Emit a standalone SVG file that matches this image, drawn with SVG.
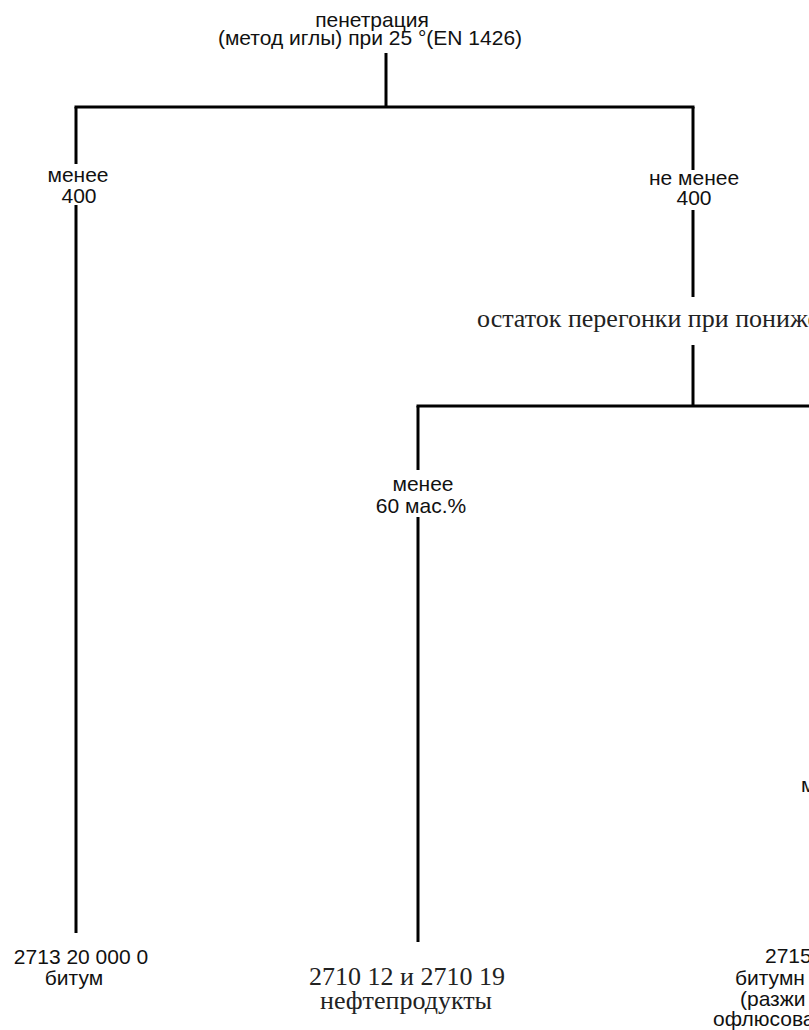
<svg xmlns="http://www.w3.org/2000/svg" width="809" height="1030" viewBox="0 0 809 1030">
<style>
.s{font-family:"Liberation Sans",Arial,sans-serif;font-size:21px;fill:#111;text-anchor:middle}
.r{font-family:"Liberation Serif","Times New Roman",serif;font-size:26px;fill:#222;text-anchor:middle}
.st{text-anchor:start}
.c{stroke:#000;stroke-width:3;fill:none}
</style>
<rect width="809" height="1030" fill="#fff"/>
<g id="connectors" class="c">
<line x1="386" y1="53" x2="386" y2="107"/>
<line x1="74.5" y1="107" x2="694.5" y2="107"/>
<line x1="76" y1="107" x2="76" y2="164"/>
<line x1="76" y1="205" x2="76" y2="933"/>
<line x1="693" y1="107" x2="693" y2="170"/>
<line x1="693" y1="210" x2="693" y2="297"/>
<line x1="693" y1="345" x2="693" y2="406"/>
<line x1="416.5" y1="406" x2="809" y2="406"/>
<line x1="418" y1="406" x2="418" y2="470"/>
<line x1="418" y1="517" x2="418" y2="942"/>
</g>
<g id="root">
<text class="s" x="372" y="27">пенетрация</text>
<text class="s" x="370" y="45">(метод иглы) при 25 °(EN 1426)</text>
</g>
<g id="label-less400">
<text class="s" x="78" y="182">менее</text>
<text class="s" x="79" y="203">400</text>
</g>
<g id="label-notless400">
<text class="s" x="694" y="185">не менее</text>
<text class="s" x="694" y="205">400</text>
</g>
<g id="residue">
<text class="r st" x="477" y="327">остаток перегонки при пониже</text>
</g>
<g id="label-less60">
<text class="s" x="423" y="491">менее</text>
<text class="s" x="421" y="513">60 мас.%</text>
</g>
<g id="label-right">
<text class="s st" x="801" y="792">м</text>
</g>
<g id="bitumen">
<text class="s" x="81" y="964">2713 20 000 0</text>
<text class="s" x="74" y="985">битум</text>
</g>
<g id="oil">
<text class="r" x="407" y="985">2710 12 и 2710 19</text>
<text class="r" x="406" y="1009">нефтепродукты</text>
</g>
<g id="mixtures">
<text class="s st" x="765" y="963">2715</text>
<text class="s st" x="735" y="985">битумн</text>
<text class="s st" x="740" y="1006">(разжи</text>
<text class="s st" x="713" y="1026">офлюсова</text>
</g>
</svg>
